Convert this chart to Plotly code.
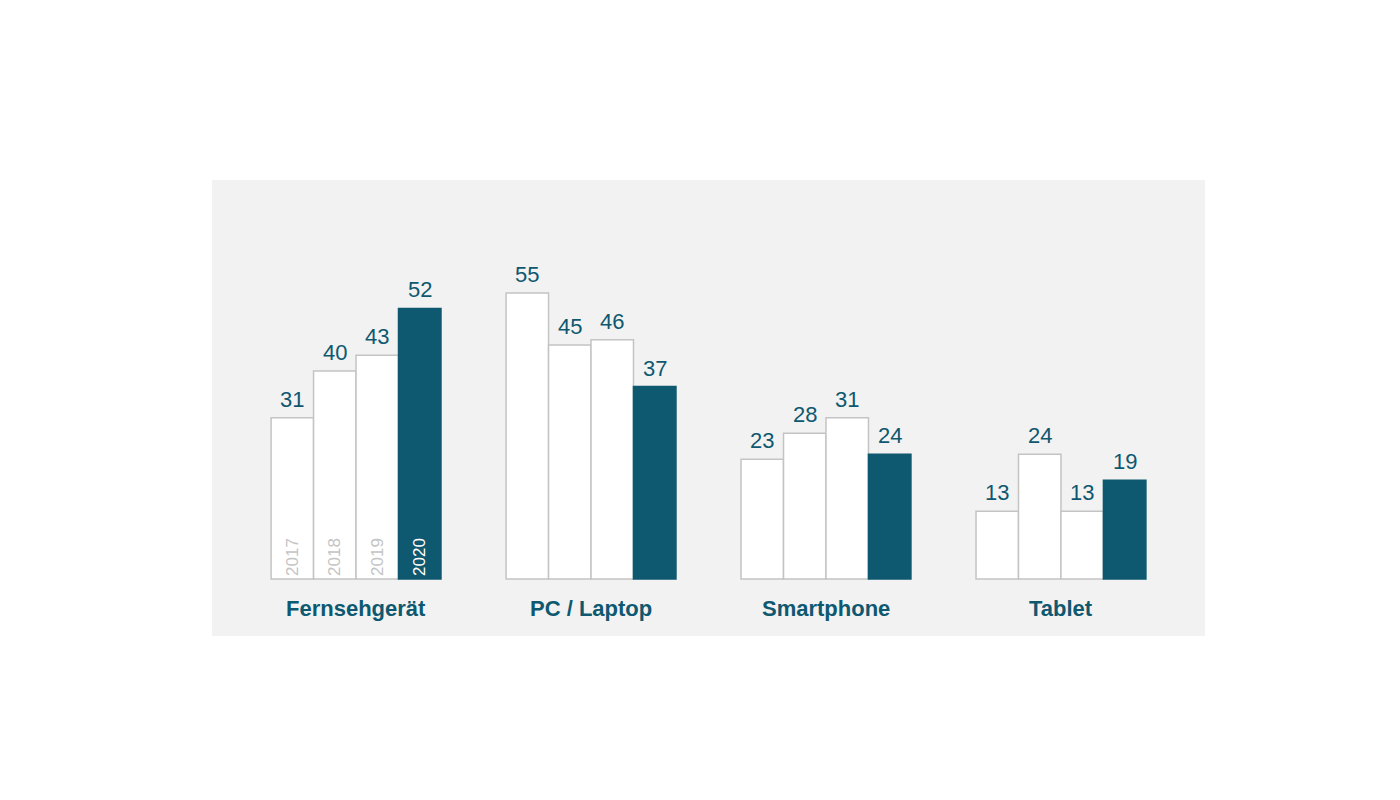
import plotly.graph_objects as go

categories = ["Fernsehgerät", "PC / Laptop", "Smartphone", "Tablet"]
years = ["2017", "2018", "2019", "2020"]
values = {
    "2017": [31, 55, 23, 13],
    "2018": [40, 45, 28, 24],
    "2019": [43, 46, 31, 13],
    "2020": [52, 37, 24, 19],
}
teal = "#0e5870"
fig = go.Figure()
xs = list(range(len(categories)))
for i, y in enumerate(years):
    last = y == "2020"
    fig.add_trace(go.Bar(
        x=xs, y=values[y], name=y,
        marker=dict(color=teal if last else "white",
                    line=dict(color=teal if last else "#c4c4c4", width=1.5)),
        text=[y] + [""] * 3, textposition="inside", insidetextanchor="start",
        textangle=-90,
        textfont=dict(size=17, color="white" if last else "#c4c4c4", family="Liberation Sans"),
        hoverinfo="skip",
    ))
ann = []
w = 42.5
for i, y in enumerate(years):
    for j, v in enumerate(values[y]):
        ann.append(dict(x=xs[j], y=v, text=str(v), showarrow=False, yanchor="bottom",
                        xshift=(i - 1.5) * w, yshift=4,
                        font=dict(size=22, color=teal, family="Liberation Sans")))
for j, c in enumerate(categories):
    ann.append(dict(x=xs[j], y=0, text="<b>%s</b>" % c, showarrow=False, yanchor="middle",
                    yshift=-30, font=dict(size=22, color=teal, family="Liberation Sans")))
fig.update_layout(
    width=1400, height=800, barmode="group", bargap=0.277, bargroupgap=0,
    paper_bgcolor="white", plot_bgcolor="#f2f2f2", showlegend=False,
    margin=dict(l=204, r=203, t=172, b=172),
    xaxis=dict(range=[-0.613, 3.613], visible=False, fixedrange=True),
    yaxis=dict(range=[-10.96, 76.7], visible=False),
    annotations=ann, uniformtext=dict(mode=False),
)
fig.write_html("out.html")
